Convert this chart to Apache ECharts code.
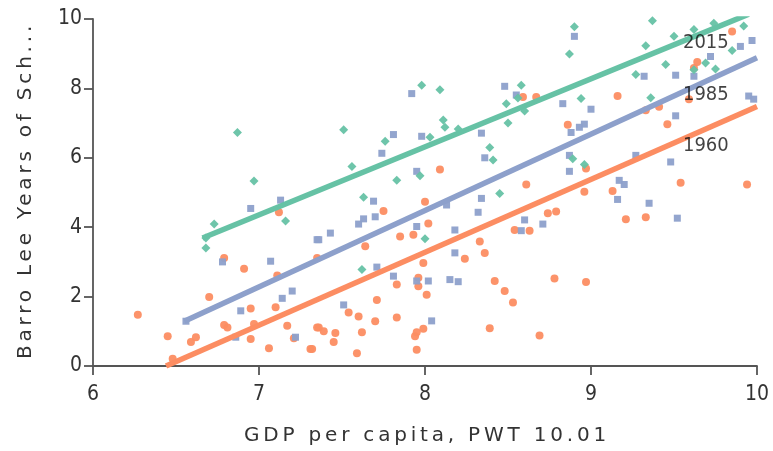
<!DOCTYPE html>
<html>
<head>
<meta charset="utf-8">
<script src="https://cdn.jsdelivr.net/npm/echarts@6/dist/echarts.min.js"></script>
<style>html,body{margin:0;padding:0;background:#fff}#c{width:773px;height:451px}</style>
</head>
<body>
<div id="c"></div>
<script>
// ---- data ----
const seriesNames = ['1960', '1985', '2015'];
const xTicks = [6, 7, 8, 9, 10];
const yTicks = [0, 2, 4, 6, 8, 10];
const xTitle = 'GDP per capita, PWT 10.01';
const yTitle = 'Barro Lee Years of Sch...';

const pts1960 = [[6.27,1.48],[6.70,1.99],[6.45,0.86],[6.59,0.69],[6.62,0.83],[6.48,0.21],[6.79,1.18],[6.81,1.11],[6.95,1.66],[6.97,1.21],[6.95,0.78],[7.10,1.69],[7.17,1.16],[7.21,0.80],[7.06,0.51],[7.31,0.49],[7.35,1.11],[7.11,2.61],[7.35,3.11],[6.79,3.11],[6.91,2.80],[7.12,4.43],
[8.59,7.75],[8.09,5.66],[8.61,5.23],
[9.85,9.64],[9.64,8.76],[9.62,8.59],[9.16,7.78],[8.67,7.75],[9.33,7.37],[9.41,7.47],[8.86,6.95],[9.46,6.97],[9.59,7.69],[8.97,5.69],[9.54,5.28],[9.94,5.23],
[7.75,4.47],[8.00,4.73],[8.02,4.11],[7.85,3.73],[7.93,3.78],[7.64,3.45],[8.33,3.59],[8.36,3.26],[8.24,3.09],[8.54,3.92],[7.99,2.97],[7.96,2.54],[7.83,2.35],[7.96,2.30],[8.01,2.05],[7.71,1.90],[7.54,1.54],[7.60,1.43],[7.70,1.29],[7.83,1.40],[7.36,1.11],[7.39,1.00],[7.46,0.95],[7.62,0.97],[7.45,0.69],[7.32,0.49],[7.59,0.37],[7.95,0.47],[7.94,0.86],[7.95,0.97],[7.99,1.07],[8.42,2.45],[8.48,2.16],[8.53,1.83],[8.39,1.09],
[8.96,5.02],[9.13,5.04],[8.74,4.40],[8.79,4.45],[8.63,3.90],[9.21,4.23],[9.33,4.29],[8.78,2.52],[8.97,2.42],[8.69,0.88]];

const pts1985 = [[6.95,4.54],[7.13,4.78],[6.78,3.00],[7.07,3.02],[6.89,1.59],[7.14,1.95],[7.20,2.16],[6.56,1.29],[7.22,0.83],[7.35,3.64],[6.86,0.83],
[7.92,7.85],[8.48,8.06],[8.55,7.81],[7.81,6.67],[7.98,6.62],[7.74,6.13],[8.34,6.71],[8.36,6.00],[7.95,5.61],
[8.90,9.50],[9.97,9.38],[9.90,9.21],[9.72,8.92],[9.51,8.38],[9.62,8.35],[9.32,8.35],[8.83,7.56],[9.00,7.40],[8.96,6.97],[8.93,6.88],[8.88,6.73],[9.51,7.21],[9.95,7.78],[9.98,7.69],[8.87,6.07],[8.87,5.61],[9.48,5.88],[9.27,6.07],[9.17,5.35],[9.20,5.23],
[7.69,4.75],[7.63,4.24],[7.60,4.09],[7.70,4.30],[7.43,3.83],[7.36,3.64],[7.95,4.02],[8.34,4.83],[8.32,4.43],[8.18,3.92],[8.13,4.64],[8.60,4.21],[8.58,3.90],[8.18,3.26],[7.71,2.85],[7.81,2.59],[7.95,2.45],[8.02,2.45],[8.15,2.49],[8.20,2.43],[7.51,1.76],[8.04,1.30],
[9.16,4.80],[9.35,4.69],[9.52,4.26],[8.71,4.09]];

const pts2015 = [[6.87,6.73],[6.97,5.33],[6.73,4.09],[6.68,3.69],[6.68,3.40],[7.16,4.18],
[7.98,8.09],[8.09,7.96],[7.51,6.81],[8.58,8.09],[8.49,7.56],[8.50,7.00],[8.11,7.09],[8.12,6.88],[8.20,6.83],[7.76,6.48],[8.03,6.59],[8.39,6.30],[8.41,5.94],[7.56,5.75],[7.83,5.35],[7.97,5.48],[8.56,7.72],
[8.90,9.78],[9.37,9.95],[8.87,8.99],[9.62,9.70],[9.74,9.88],[9.92,9.80],[9.50,9.50],[9.33,9.23],[9.85,9.09],[9.45,8.69],[9.62,8.54],[9.69,8.73],[9.27,8.40],[8.94,7.71],[9.36,7.73],[8.60,7.35],[8.89,5.97],[8.96,5.81],[9.75,8.56],
[7.63,4.86],[8.45,4.97],[8.00,3.67],[7.62,2.78]];

// fitted trend lines (endpoints)
const fit1960 = [[6.44,0.00],[10.00,7.48]];
const fit1985 = [[6.55,1.29],[10.00,8.88]];
const fit2015 = [[6.66,3.69],[9.95,10.14]];

// series label anchor points (data coordinates)
const labelPts = [[9.554,6.35],[9.554,7.81],[9.554,9.30]];

// ---- spaced-out axis titles (as in the reference) ----
const spacedTexts = new Set([xTitle, yTitle]);
(function () {
  const proto = CanvasRenderingContext2D.prototype;
  const orig = proto.fillText;
  proto.fillText = function (t, x, y, w) {
    const call = () => (w === undefined ? orig.call(this, t, x, y) : orig.call(this, t, x, y, w));
    if (spacedTexts.has(t) && 'letterSpacing' in this) {
      const prevLS = this.letterSpacing;
      const f = this.font;
      this.letterSpacing = '3.8px';
      this.font = f;
      const r = call();
      this.letterSpacing = prevLS || '0px';
      this.font = f;
      return r;
    }
    if ('letterSpacing' in this && this.letterSpacing && this.letterSpacing !== '0px') {
      this.letterSpacing = '0px';
      this.font = this.font;
    }
    return call();
  };
})();

// ---- chart ----
const FONT = "'DejaVu Sans Condensed', 'DejaVu Sans', sans-serif";
const TITLE_FONT = "'DejaVu Sans', sans-serif";
const colors = ['#fc8d62', '#8da0cb', '#66c2a5'];
const symbols = ['circle', 'rect', 'diamond'];
const sizes = [8, 7, 9];
const pts = [pts1960, pts1985, pts2015];
const fits = [fit1960, fit1985, fit2015];

const series = [];
pts.forEach((p, i) => {
  series.push({
    name: seriesNames[i], type: 'scatter', data: p,
    symbol: symbols[i], symbolSize: sizes[i],
    itemStyle: { color: colors[i], opacity: 0.95 }, z: 2
  });
});
fits.forEach((f, i) => {
  series.push({
    name: seriesNames[i] + ' fit', type: 'line', data: f,
    showSymbol: false, symbol: 'none', clip: true,
    lineStyle: { color: colors[i], width: 5.5 }, z: 3, silent: true
  });
});
series.push({
  type: 'scatter', symbolSize: 0, z: 5, silent: true,
  data: labelPts.map((p, i) => ({ value: p, name: seriesNames[i] })),
  label: {
    show: true, position: 'right', distance: 0,
    formatter: p => p.name, color: '#111', fontSize: 20, fontFamily: FONT
  }
});

const chart = echarts.init(document.getElementById('c'), null, { renderer: 'canvas' });
chart.setOption({
  animation: false,
  backgroundColor: '#fff',
  grid: { left: 93, right: 16, top: 19, bottom: 82, containLabel: false },
  xAxis: {
    type: 'value', min: xTicks[0], max: xTicks[xTicks.length - 1], interval: 1,
    name: xTitle, nameLocation: 'middle', nameGap: 60,
    nameTextStyle: { fontSize: 20, color: '#333', fontFamily: TITLE_FONT, padding: [0, 0, 0, 4] },
    axisLine: { show: true, lineStyle: { color: '#555', width: 1.8 } },
    axisTick: { show: true, length: 9, lineStyle: { color: '#555', width: 1.8 } },
    axisLabel: { fontSize: 21, color: '#333', margin: 18, fontFamily: FONT },
    splitLine: { show: false }
  },
  yAxis: {
    type: 'value', min: yTicks[0], max: yTicks[yTicks.length - 1], interval: 2,
    name: yTitle, nameLocation: 'middle', nameGap: 57,
    nameTextStyle: { fontSize: 20, color: '#333', fontFamily: TITLE_FONT, padding: [0, 0, 0, 4] },
    axisLine: { show: true, lineStyle: { color: '#555', width: 1.8 } },
    axisTick: { show: true, length: 9, lineStyle: { color: '#555', width: 1.8 } },
    axisLabel: { fontSize: 21, color: '#333', margin: 11, fontFamily: FONT },
    splitLine: { show: false }
  },
  series: series
});
</script>
</body>
</html>
